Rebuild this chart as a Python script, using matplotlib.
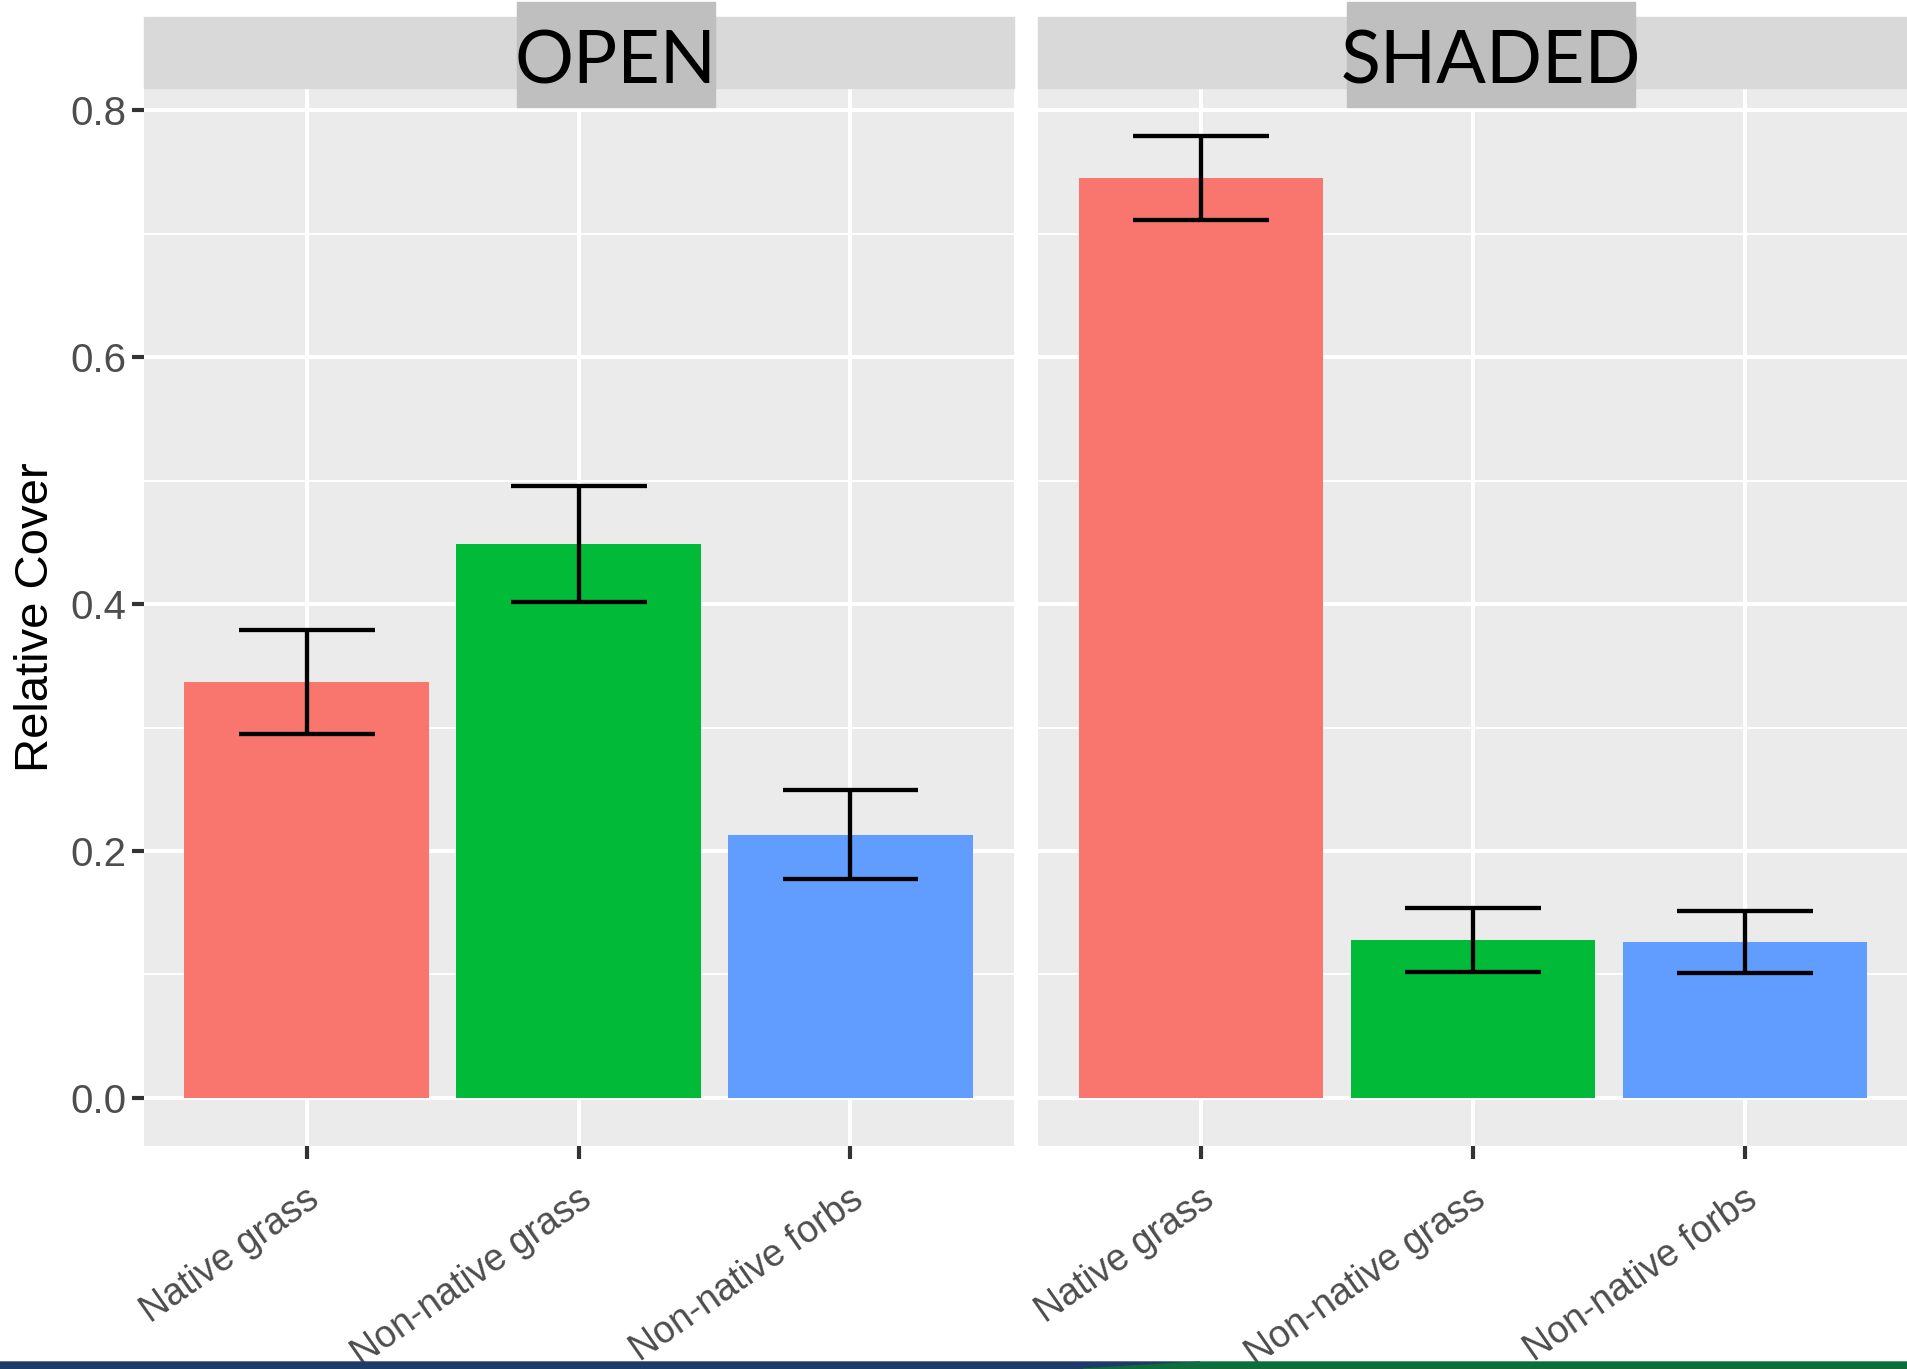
import matplotlib.pyplot as plt
from matplotlib.patches import Rectangle, Polygon
from matplotlib.transforms import ScaledTranslation
import numpy as np

# relative cover by plant group, open vs shaded plots
panels = ['OPEN', 'SHADED']
groups = ['Native grass', 'Non-native grass', 'Non-native forbs']
cover_open = [0.337, 0.449, 0.213]
se_open = [0.042, 0.047, 0.036]
cover_shaded = [0.745, 0.128, 0.126]
se_shaded = [0.034, 0.026, 0.025]
colors = ['#F8766D', '#00BA38', '#619CFF']

W, H = 1908, 1369
fig = plt.figure(figsize=(W / 100, H / 100), dpi=100)

def fx(px):
    return px / W

def fy(py):
    return 1 - py / H

top = max(max(np.add(cover_open, se_open)), max(np.add(cover_shaded, se_shaded)))
pad = 0.05 * top
x = np.arange(len(groups))

panel_left = [143.6, 1038]
panel_w = 870
panel_top, panel_bot = 88, 1146

axes = []
for i, (name, vals, errs) in enumerate(zip(panels, [cover_open, cover_shaded], [se_open, se_shaded])):
    ax = fig.add_axes([fx(panel_left[i]), fy(panel_bot), fx(panel_w), (panel_bot - panel_top) / H])
    ax.set_facecolor('#EBEBEB')
    ax.bar(x, vals, width=0.9, color=colors, zorder=3)
    ax.errorbar(x, vals, yerr=errs, fmt='none', ecolor='black', elinewidth=3.1,
                capsize=0, zorder=4)
    # ggplot-style caps, half a category wide
    ax.hlines(np.add(vals, errs), x - 0.25, x + 0.25, color='black', lw=3.1, zorder=4)
    ax.hlines(np.subtract(vals, errs), x - 0.25, x + 0.25, color='black', lw=3.1, zorder=4)
    ax.set_xlim(-0.6, len(groups) - 0.4)
    ax.set_ylim(-pad, top + pad)
    ax.set_yticks([0, 0.2, 0.4, 0.6, 0.8])
    ax.set_yticks([0.1, 0.3, 0.5, 0.7], minor=True)
    ax.set_xticks(x)
    ax.grid(which='major', color='white', lw=2.9, zorder=0)
    ax.grid(which='minor', axis='y', color='white', lw=1.4, zorder=0)
    ax.set_axisbelow(True)
    for s in ax.spines.values():
        s.set_visible(False)
    ax.tick_params(axis='both', which='major', length=9, width=3, color='#333333',
                   labelcolor='#4D4D4D', labelsize=29)
    ax.tick_params(axis='both', which='minor', length=0)
    ax.set_xticklabels(groups, rotation=35, ha='right', va='center',
                       rotation_mode='anchor', family='Liberation Sans', fontsize=27)
    ax.tick_params(axis='x', pad=27)
    shift = ScaledTranslation(0.09, 0, fig.dpi_scale_trans)
    for lab in ax.get_xticklabels():
        lab.set_transform(lab.get_transform() + shift)
    if i == 0:
        ax.set_yticklabels(['0.0', '0.2', '0.4', '0.6', '0.8'], family='Liberation Sans')
        ax.set_ylabel('Relative Cover', fontsize=34, family='Liberation Sans', labelpad=9)
    else:
        ax.tick_params(axis='y', labelleft=False, length=0)
    # facet strip
    fig.patches.append(Rectangle((fx(panel_left[i]), fy(88)), fx(panel_w), (88 - 17) / H,
                                 transform=fig.transFigure, color='#D9D9D9', zorder=1))
    axes.append(ax)

# panel titles in grey boxes over the strips
boxes = [(517, 715), (1347, 1635)]
for name, (x0, x1) in zip(panels, boxes):
    fig.patches.append(Rectangle((fx(x0), fy(107)), fx(x1 - x0), (107 - 2) / H,
                                 transform=fig.transFigure, color='#BFBFBF', zorder=2))
    fig.text(fx((x0 + x1) / 2), fy(63), name, ha='center', va='center', fontsize=53,
             family='Lato', color='black', zorder=3)

# footer band
fig.patches.append(Polygon([(0, fy(1369)), (0, fy(1362)), (fx(1200), fy(1362)), (fx(1083), fy(1369))],
                           closed=True, transform=fig.transFigure, color='#1F3A68', zorder=5))
fig.patches.append(Polygon([(fx(1083), fy(1369)), (fx(1200), fy(1362)), (1, fy(1362)), (1, fy(1369))],
                           closed=True, transform=fig.transFigure, color='#0B6E3B', zorder=5))

plt.savefig('out.png', dpi=100)
